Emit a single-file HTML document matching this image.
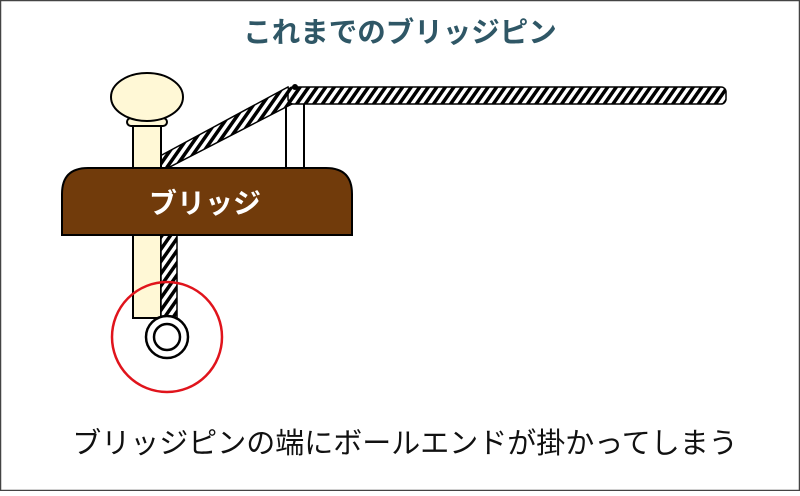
<!DOCTYPE html>
<html><head><meta charset="utf-8"><style>
html,body{margin:0;padding:0;background:#fff}
body{width:800px;height:491px;overflow:hidden}
</style></head><body>
<svg width="800" height="491" viewBox="0 0 800 491" xmlns="http://www.w3.org/2000/svg">
<defs>
<pattern id="rope" patternUnits="userSpaceOnUse" width="7" height="7" patternTransform="rotate(35)">
<rect width="7" height="7" fill="#fff"/>
<rect width="3.5" height="7" fill="#000"/>
</pattern>
</defs>
<rect x="0.5" y="0.5" width="799" height="490" fill="#fff" stroke="#444" stroke-width="1.5"/>
<text x="400" y="42" text-anchor="middle" font-family="'Liberation Sans','Noto Sans CJK JP',sans-serif" font-weight="bold" font-size="28.5" fill="#2f5766">これまでのブリッジピン</text>
<line x1="286" y1="96" x2="286" y2="170" stroke="#000" stroke-width="2"/>
<line x1="304" y1="100" x2="304" y2="170" stroke="#000" stroke-width="2"/>
<polygon points="160,156 288,87 292,104 160,172" fill="url(#rope)" stroke="#000" stroke-width="1.5"/>
<rect x="288" y="87" width="438" height="17" rx="5" fill="url(#rope)" stroke="#000" stroke-width="1.5"/>
<circle cx="295" cy="87" r="3" fill="#000"/>
<rect x="133" y="120" width="28" height="198" fill="#fff8d6" stroke="#000" stroke-width="2"/>
<rect x="127" y="118" width="40" height="8" rx="4" fill="#fff8d6" stroke="#000" stroke-width="2"/>
<ellipse cx="147" cy="97" rx="36" ry="24" fill="#fff8d6" stroke="#000" stroke-width="2"/>
<rect x="161" y="234" width="16" height="86" fill="url(#rope)" stroke="#000" stroke-width="1.5"/>
<path d="M62,235 L62,194 Q62,168 88,168 L326,168 Q352,168 352,194 L352,235 Z" fill="#713b0b" stroke="#000" stroke-width="2"/>
<text x="205" y="213" text-anchor="middle" font-family="'Liberation Sans','Noto Sans CJK JP',sans-serif" font-weight="bold" font-size="28" fill="#fff">ブリッジ</text>
<circle cx="167" cy="337" r="21" fill="#fff" stroke="#000" stroke-width="2.5"/>
<circle cx="167" cy="337" r="13" fill="#fff" stroke="#000" stroke-width="2.5"/>
<circle cx="167" cy="337" r="55" fill="none" stroke="#e0141c" stroke-width="2.5"/>
<text x="405" y="453" text-anchor="middle" font-family="'Liberation Sans','Noto Sans CJK JP',sans-serif" font-size="29" fill="#111">ブリッジピンの端にボールエンドが掛かってしまう</text>
</svg>
</body></html>
